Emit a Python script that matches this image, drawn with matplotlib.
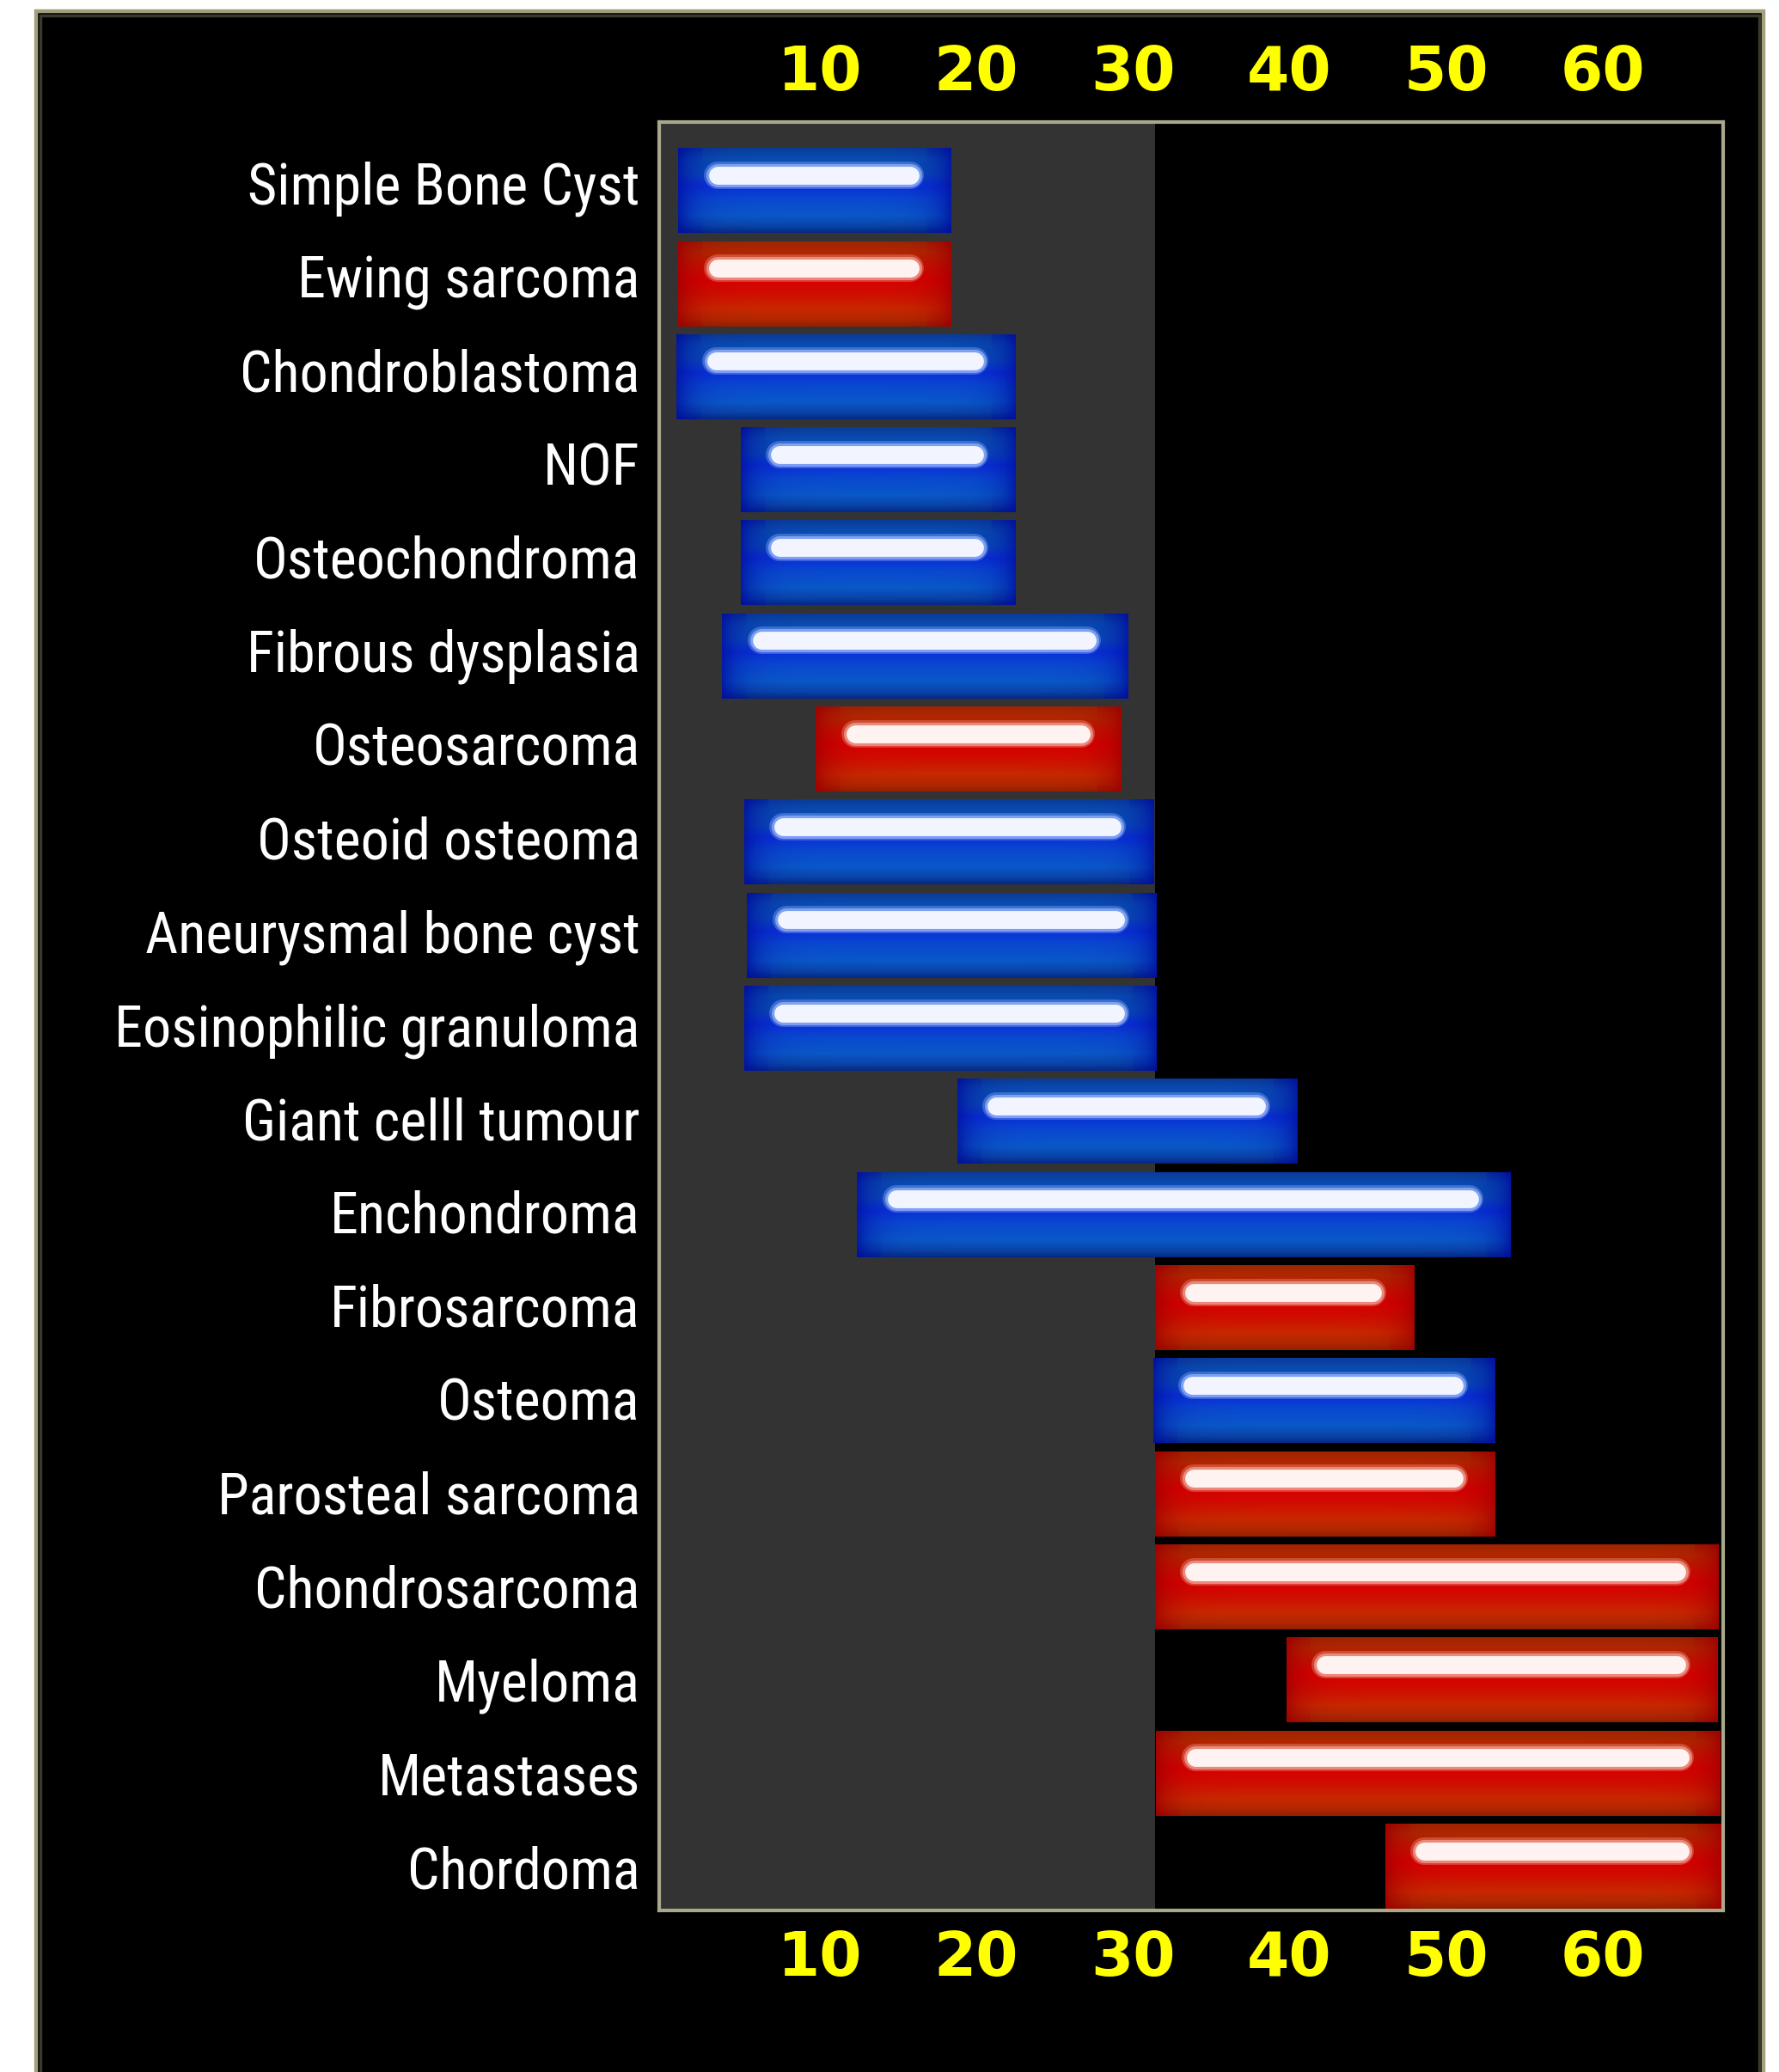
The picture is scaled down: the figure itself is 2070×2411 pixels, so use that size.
import os
import numpy as np
import matplotlib.pyplot as plt
from matplotlib import font_manager
from matplotlib.font_manager import FontProperties
from matplotlib.colors import to_rgb
from matplotlib.patches import Rectangle

# age ranges (years) for each bone lesion, top to bottom
diseases = [
    "Simple Bone Cyst", "Ewing sarcoma", "Chondroblastoma", "NOF",
    "Osteochondroma", "Fibrous dysplasia", "Osteosarcoma", "Osteoid osteoma",
    "Aneurysmal bone cyst", "Eosinophilic granuloma", "Giant celll tumour",
    "Enchondroma", "Fibrosarcoma", "Osteoma", "Parosteal sarcoma",
    "Chondrosarcoma", "Myeloma", "Metastases", "Chordoma",
]
age_start = [1.0, 1.0, 0.9, 5.0, 5.0, 3.8, 9.8, 5.2, 5.4, 5.2,
             18.8, 12.4, 31.4, 31.3, 31.4, 31.4, 39.8, 31.5, 46.1]
age_end = [18.4, 18.4, 22.5, 22.5, 22.5, 29.7, 29.3, 31.3, 31.5, 31.5,
           40.5, 54.1, 47.9, 53.1, 53.1, 67.3, 67.3, 67.5, 67.5]
malignant = [False, True, False, False, False, False, True, False, False, False,
             False, False, True, False, True, True, True, True, True]

age_ticks = [10, 20, 30, 40, 50, 60]
age_tick_labels = ["10", "20", "30", "40", "50", "60"]
young_limit = 31.4  # shaded "young patient" band

W, H = 2070, 2411


def narrow_font():
    """Pick a narrow sans face for the row labels, if one is installed."""
    paths = [f.fname for f in font_manager.fontManager.ttflist]
    paths += font_manager.findSystemFonts()
    by_name = {os.path.basename(p).lower(): p for p in paths}
    for fn in ["LiberationSansNarrow-Regular.ttf", "ArialNarrow.ttf",
               "arialn.ttf", "RobotoCondensed-Regular.ttf",
               "NotoSans-Condensed.ttf", "NotoSans-SemiCondensed.ttf",
               "DejaVuSansCondensed.ttf"]:
        if fn.lower() in by_name:
            return FontProperties(fname=by_name[fn.lower()])
    return FontProperties(family="Liberation Sans", stretch="condensed")


STYLES = {
    False: dict(
        stops=[(0.0, "#0a3c9a"), (0.12, "#0a4cb0"), (0.30, "#0a4cb8"),
               (0.45, "#0a30d8"), (0.60, "#0a48d0"), (0.80, "#0a58c8"),
               (0.92, "#0a44a8"), (1.0, "#062a84")],
        edge="#0010a0", base="#0a44c0", glow="#9ab8ff", core="#f2f5ff"),
    True: dict(
        stops=[(0.0, "#a02400"), (0.12, "#b02800"), (0.30, "#c81000"),
               (0.45, "#d80000"), (0.60, "#d00c00"), (0.80, "#c82800"),
               (0.92, "#b02800"), (1.0, "#962000")],
        edge="#a00000", base="#c81000", glow="#f4a898", core="#fff3f1"),
}


def bar_image(width, stops, edge, ny=80):
    """Glossy bar fill: vertical colour profile plus darker side edges."""
    nx = max(int(width * 20), 20)
    t = np.linspace(0, 1, ny)
    pos = [s[0] for s in stops]
    cols = np.array([to_rgb(s[1]) for s in stops])
    prof = np.stack([np.interp(t, pos, cols[:, k]) for k in range(3)], axis=1)
    img = np.repeat(prof[:, None, :], nx, axis=1)
    xs = np.linspace(0, width, nx)
    d = np.minimum(xs, width - xs)
    w = 0.8 * np.exp(-d / 1.1)
    dy = np.minimum(t, 1 - t)
    w = np.clip(w[None, :] + 0.25 * np.exp(-dy / 0.08)[:, None] * (w[None, :] > 0.2), 0, 0.9)
    img = img * (1 - w[..., None]) + np.array(to_rgb(edge)) * w[..., None]
    return img


fig = plt.figure(figsize=(W / 100, H / 100), dpi=100, facecolor="white")

# black backing panel with olive frame
fig.patches.append(Rectangle((42 / W, -0.05), (2052 - 42) / W, 1.05 - 13 / H,
                             transform=fig.transFigure, facecolor="black",
                             edgecolor="#a3a17d", linewidth=3.2, zorder=-10))
fig.patches.append(Rectangle((47 / W, -0.05), (2047 - 47) / W, 1.05 - 18 / H,
                             transform=fig.transFigure, facecolor="none",
                             edgecolor="#3a3a2c", linewidth=2.5, zorder=-9))

ax = fig.add_axes([767 / W, 1 - 2223 / H, (2005 - 767) / W, (2223 - 142) / H])
ax.set_zorder(1)
ax.set_facecolor("black")
rows = np.arange(len(diseases))
bar_h = 0.905

ax.axvspan(-0.2, young_limit, color="#333333", zorder=0.5, lw=0)

for i in rows:
    st = STYLES[malignant[i]]
    x0, x1 = age_start[i], age_end[i]
    ax.barh(i, x1 - x0, left=x0, height=bar_h, color=st["base"], zorder=3)
    img = bar_image(x1 - x0, st["stops"], st["edge"])
    ax.imshow(img, extent=(x0, x1, i + bar_h / 2, i - bar_h / 2),
              aspect="auto", interpolation="bilinear", zorder=4)
    hy = i - 0.17
    hx = [x0 + 2.5, x1 - 2.6]
    ax.plot(hx, [hy, hy], color=st["glow"], lw=23, alpha=0.35,
            solid_capstyle="round", zorder=5)
    ax.plot(hx, [hy, hy], color=st["glow"], lw=19.5, alpha=0.7,
            solid_capstyle="round", zorder=5)
    ax.plot(hx, [hy, hy], color=st["core"], lw=15,
            solid_capstyle="round", zorder=6)

ax.set_xlim(-0.2, 67.65)
ax.set_ylim(18.47, -0.74)

ax.set_xticks(age_ticks)
ax.set_xticklabels(age_tick_labels, fontsize=51, fontweight="bold",
                   color="#ffff00", family="DejaVu Sans")
ax.tick_params(axis="x", top=True, labeltop=True, bottom=True,
               labelbottom=True, length=0, pad=16)

# row labels: size the narrow face so the longest names keep their width
label_fp = narrow_font()
probe = fig.text(0, 0, "Simple Bone Cyst", fontproperties=label_fp, size=50)
probe_w = probe.get_window_extent(fig.canvas.get_renderer()).width
probe.remove()
label_fp.set_size(float(np.clip(50 * 457 / probe_w, 38, 52)))

label_rows = rows - 0.09 * (1 - rows / rows[-1])
ax.set_yticks(label_rows)
ax.set_yticklabels(diseases, fontproperties=label_fp, color="white")
ax.tick_params(axis="y", length=0, pad=16)

for sp in ax.spines.values():
    sp.set_color("#a9a88b")
    sp.set_linewidth(3)
    sp.set_zorder(2.5)

fig.savefig("out.png", dpi=100, facecolor="white")
